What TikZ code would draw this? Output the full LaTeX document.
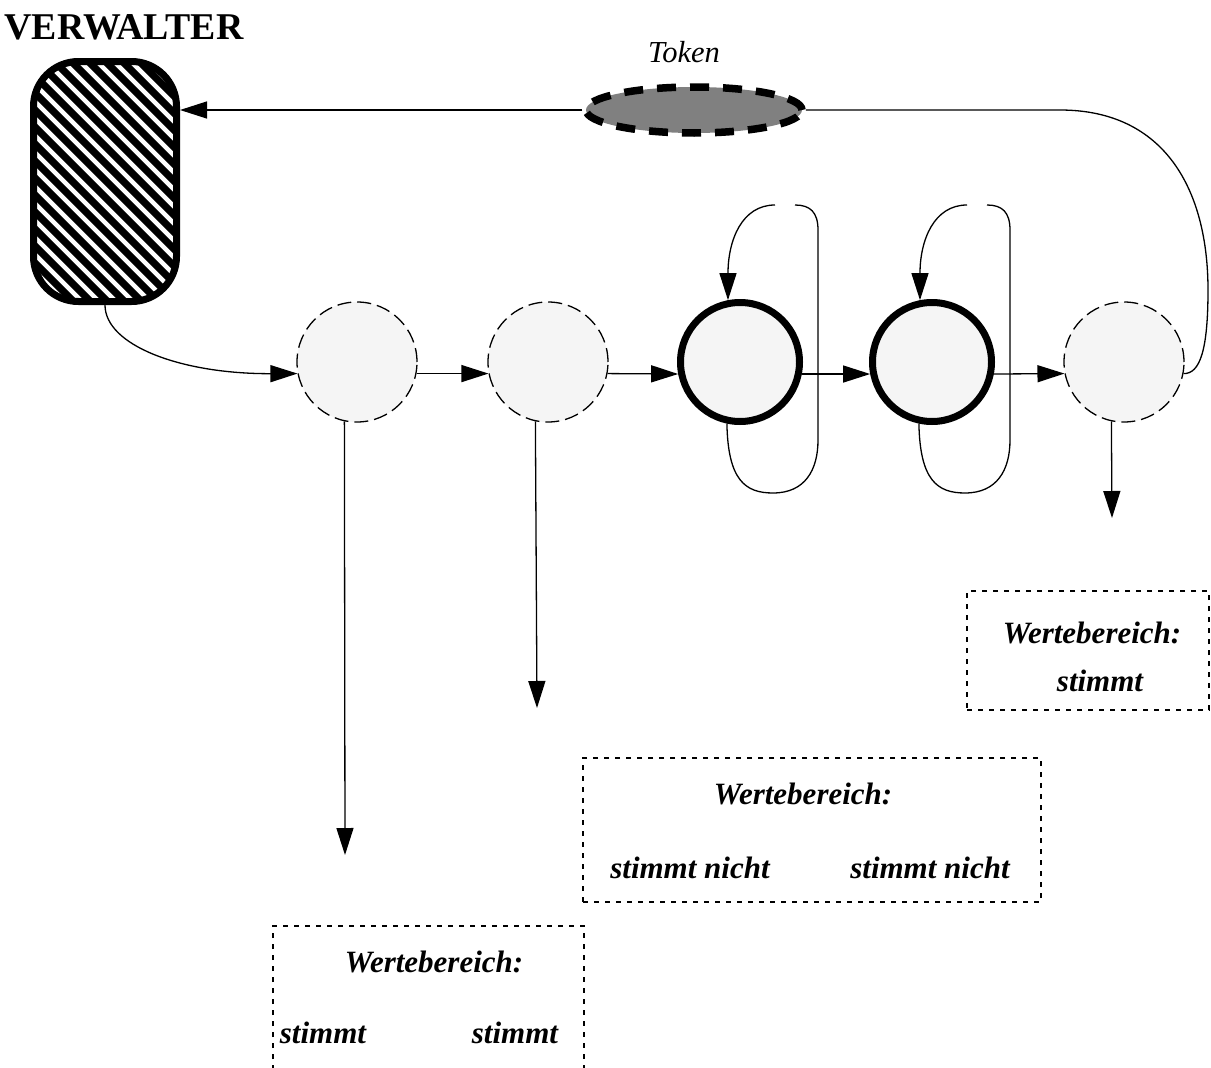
\documentclass[tikz,border=0pt]{standalone}
\usepackage{fontspec}
\setmainfont{Liberation Serif}
\usetikzlibrary{arrows.meta,shapes.geometric}

\begin{document}
\begin{tikzpicture}[x=1pt,y=-1pt,
  wire/.style={line width=1.3pt},
  arr/.style={wire,-{Triangle[length=27pt,width=17pt]}},
  station/.style={circle,fill=black!4,minimum size=120pt,inner sep=0pt},
  idle/.style={station,draw,wire,dash pattern=on 14pt off 6pt},
  busy/.style={station,draw,line width=7pt,minimum size=119pt},
  valbox/.style={draw,wire,dash pattern=on 5pt off 6pt,inner sep=0pt},
  lbl/.style={inner sep=0pt,anchor=base,font=\fontsize{31}{36}\selectfont\bfseries\itshape},
]
\useasboundingbox (0,0) rectangle (1211,1068);

% manager: hatched rounded box
\begin{scope}
  \clip[rounded corners=45pt] (33.5,61.5) rectangle (176.5,301.5);
  \foreach \k in {-18,...,9}
    \draw[line width=7.2pt] ({33+\k*17},40) -- ++(320,320);
\end{scope}
\node[draw,line width=7pt,rounded corners=45pt,minimum width=143pt,minimum height=240pt,inner sep=0pt]
  (box) at (105,181.5) {};
\node[inner sep=0pt,anchor=base,font=\fontsize{37.8}{42}\selectfont\bfseries] (title) at (124,39) {VERWALTER};

% token
\node[ellipse,draw,fill=black!50,line width=7.5pt,dash pattern=on 19pt off 14pt,
      minimum width=216pt,minimum height=46pt,inner sep=0pt] (token) at (694,110) {};
\node[inner sep=0pt,anchor=base,font=\fontsize{30.5}{34}\selectfont\itshape] (toklbl) at (684,62) {Token};

% chain of stations
\node[idle] (c1) at (357,362) {};
\node[idle] (c2) at (548,362) {};
\node[busy] (c3) at (740,362) {};
\node[busy] (c4) at (932,362) {};
\node[idle] (c5) at (1124,362) {};

% value ranges
\node[valbox,minimum width=242pt,minimum height=119pt] (r5) at (1088,650.5) {};
\node[valbox,minimum width=458pt,minimum height=144pt] (r2) at (812,830) {};
\draw[wire,dash pattern=on 5pt off 6pt] (273,1070) |- (584,926) -- (584,1070);

\node[lbl] (w5) at (1092,643) {Wertebereich:};
\node[lbl] (s5) at (1100,691) {stimmt};
\node[lbl] (w2) at (803,804) {Wertebereich:};
\node[lbl] (s2a) at (690,878) {stimmt nicht};
\node[lbl] (s2b) at (930,878) {stimmt nicht};
\node[lbl] (w1) at (434,972) {Wertebereich:};
\node[lbl] (s1a) at (323,1043) {stimmt};
\node[lbl] (s1b) at (515,1043) {stimmt};

% token circulation
\draw[arr] (token.west) -- (token.west -| box.east);
\draw[wire] (token.east) -- (1060,110) .. controls (1165,110) and (1208,190) .. (1208,290)
  .. controls (1208,350) and (1200,374) .. (c5.-11.5);
\draw[arr] (box.south) .. controls (105,345) and (180,374) .. (c1.191.5);

% forward links
\draw[arr] (c1.-11.5) -- (c2.191.5);
\draw[arr] (c2.-11.5) -- (c3.191.5);
\draw[arr] (c3.-11.5) -- (c4.191.5);
\draw[arr] (c4.-11.5) -- (c5.191.5);

% outputs
\coordinate (o1) at (345,855);
\coordinate (o2) at (537,708);
\coordinate (o5) at (1112,518);
\draw[arr] (c1.258.5) -- (o1);
\draw[arr] (c2.258.5) -- (o2);
\draw[arr] (c5.258.5) -- (o5);

% self loops of the busy stations
\foreach \c/\dx in {c3/0,c4/192}{
  \coordinate (\c a) at (795+\dx,205);
  \coordinate (\c b) at (775+\dx,205);
  \draw[wire] (\c.258.5) .. controls (728+\dx,480) and (745+\dx,493) .. (773+\dx,493)
    .. controls (805+\dx,493) and (818+\dx,470) .. (818+\dx,440) -- (818+\dx,230)
    .. controls (818+\dx,212) and (810+\dx,205) .. (\c a);
  \draw[arr] (\c b) .. controls (742+\dx,205) and (728+\dx,240) .. (\c.101.5);
}
\end{tikzpicture}
\end{document}
